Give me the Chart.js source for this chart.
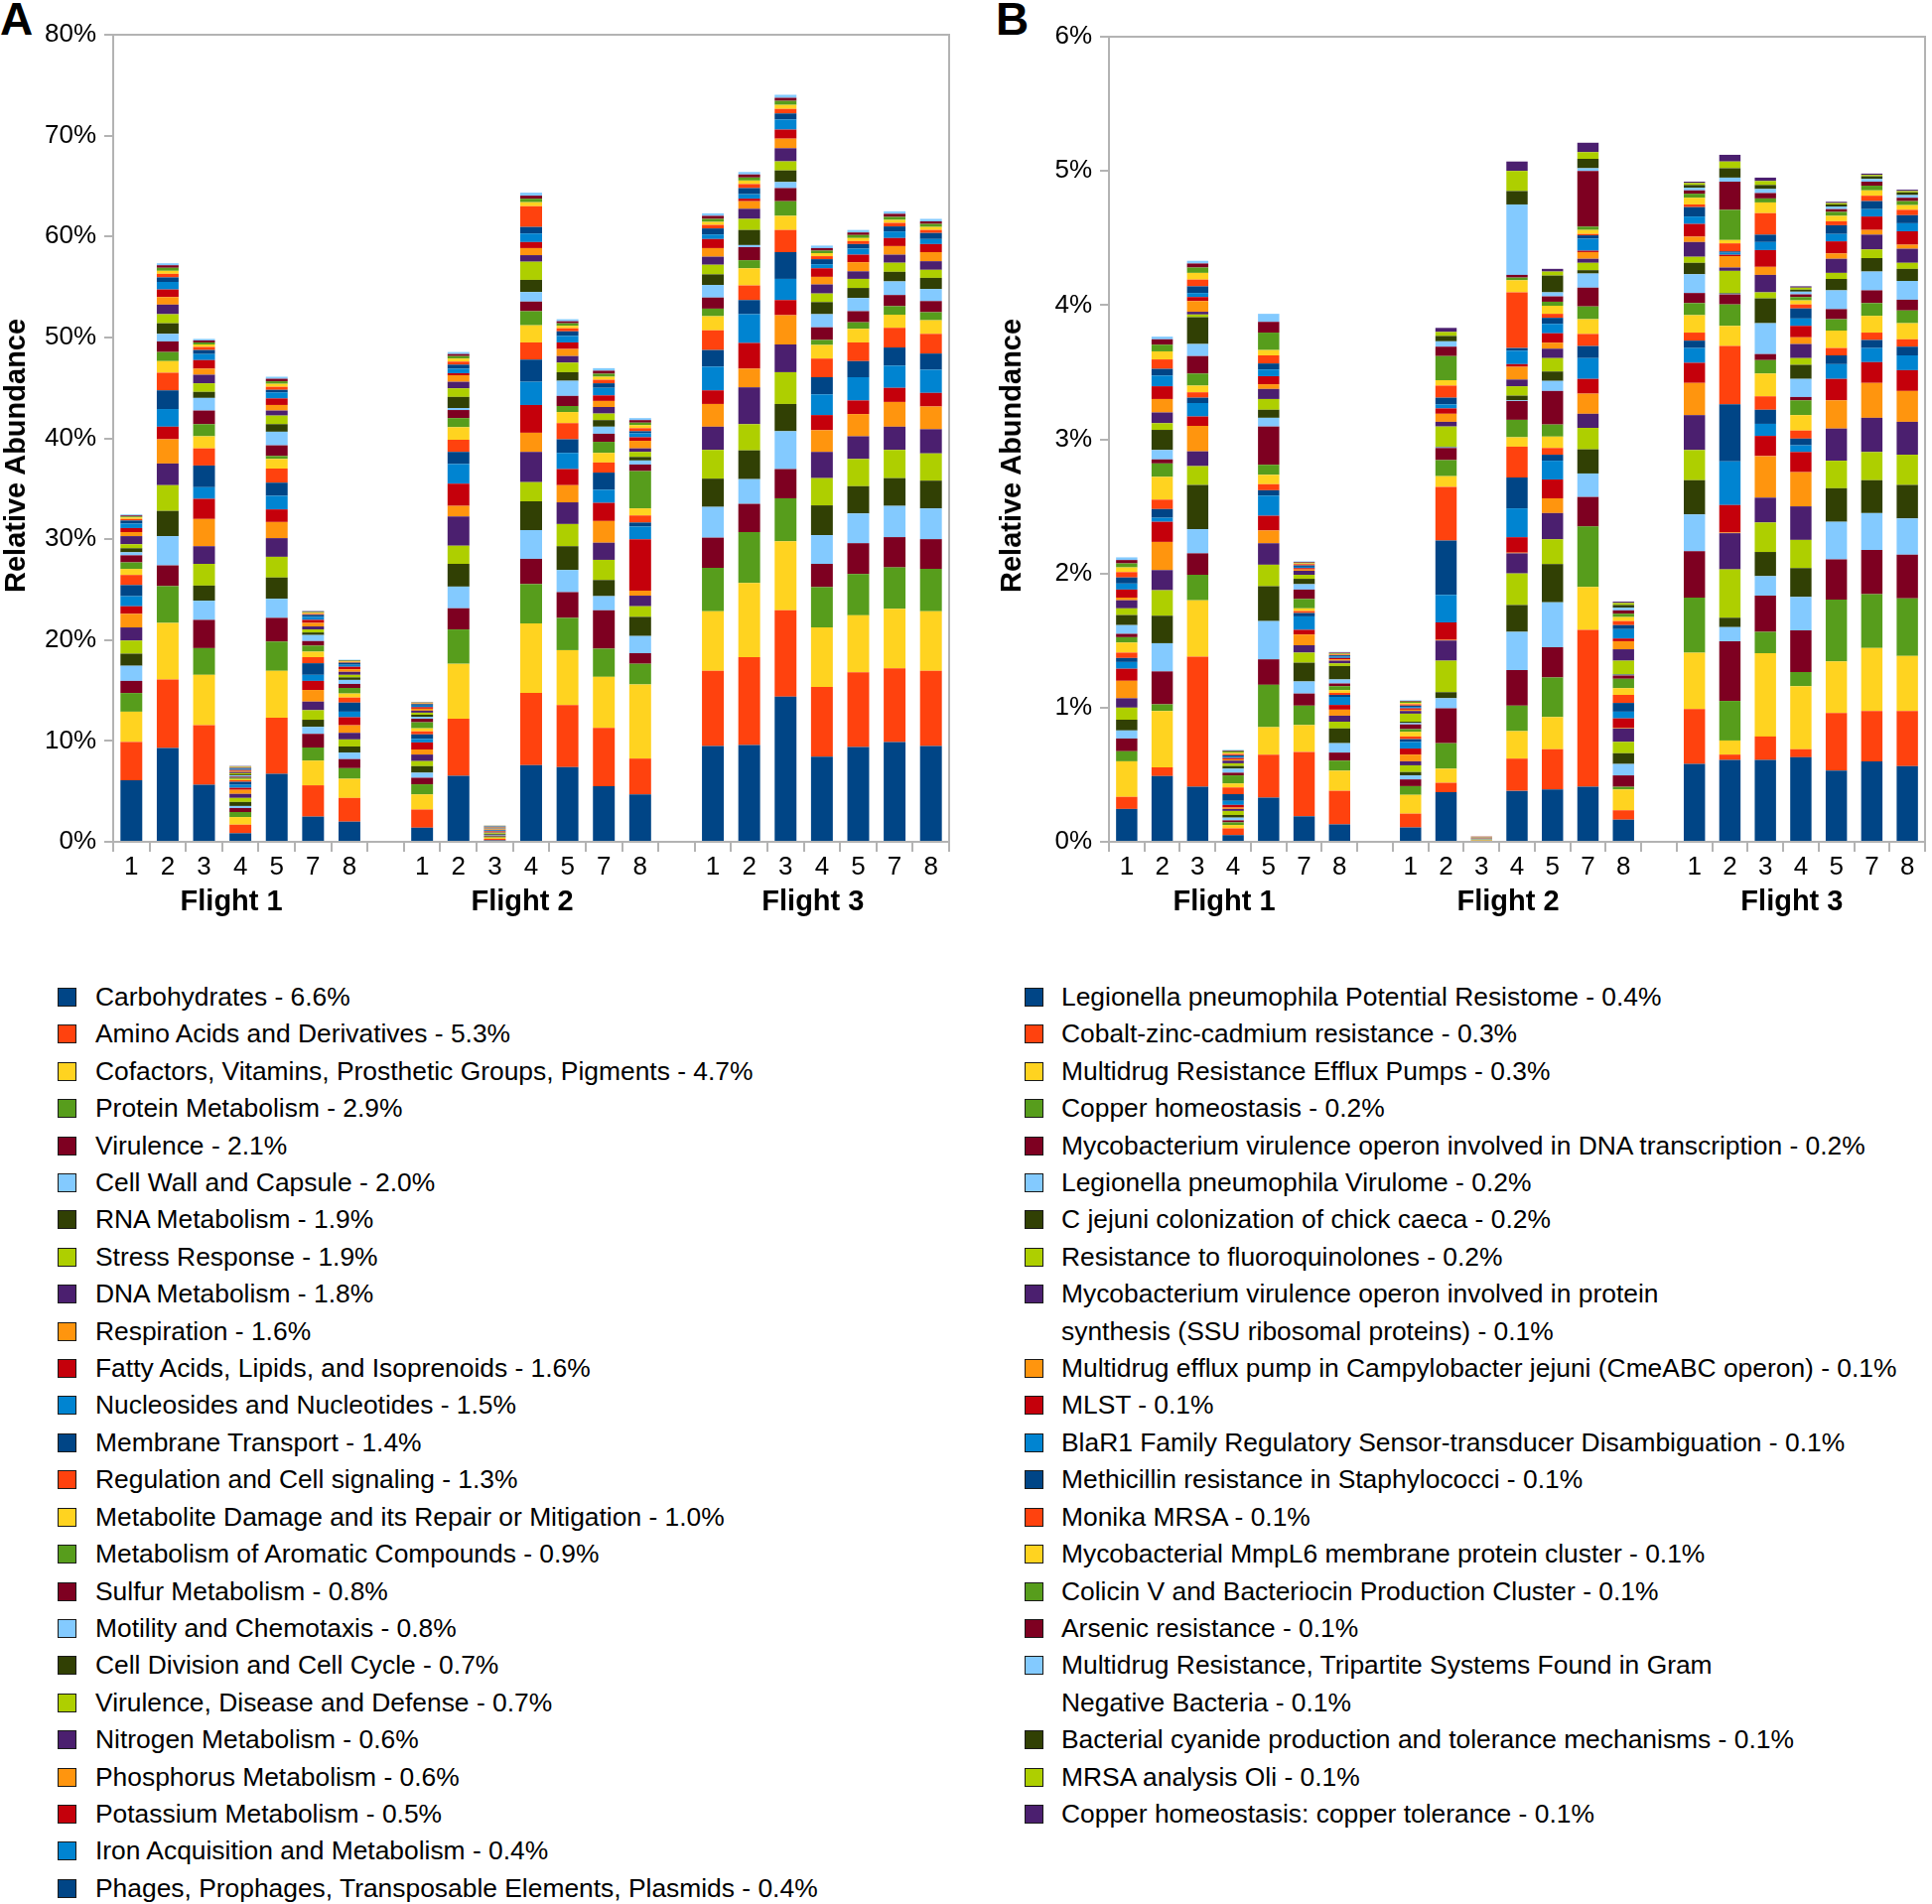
<!DOCTYPE html>
<html>
<head>
<meta charset="utf-8">
<script src="https://cdn.jsdelivr.net/npm/chart.js@4.4.0/dist/chart.umd.min.js"></script>
<style>
body { margin: 0; width: 1946px; height: 1918px; background: #fff; position: relative; overflow: hidden;
       font-family: "Liberation Sans", Arial, sans-serif; color: #000; }
canvas { position: absolute; top: 0; }
.letter { position: absolute; top: -4px; font-weight: bold; font-size: 46px; line-height: 46px; }
.ytitle { position: absolute; font-weight: bold; font-size: 29px; line-height: 34px; white-space: nowrap;
          transform: translate(-50%, -50%) rotate(-90deg); }
.legend { position: absolute; top: 986px; font-size: 26.4px; line-height: 37.4px; white-space: nowrap; }
.item { position: relative; }
.sw { position: absolute; left: 0; top: 9px; width: 17px; height: 17px; border: 1.5px solid #1a1a1a; }
</style>
</head>
<body>
<div class="letter" style="left:0">A</div>
<div class="letter" style="left:1003px">B</div>
<canvas id="chartA" style="left:0" width="975" height="950"></canvas>
<canvas id="chartB" style="left:990px" width="956" height="950"></canvas>
<div class="ytitle" style="left:15px;top:459px">Relative Abundance</div>
<div class="ytitle" style="left:1018px;top:459px">Relative Abundance</div>
<div id="legendA" class="legend" style="left:58px"></div>
<div id="legendB" class="legend" style="left:1032px"></div>

<script>
// x axis
var categories = ['1','2','3','4','5','7','8','', '1','2','3','4','5','7','8','', '1','2','3','4','5','7','8'];
var groupLabels = ['','','','Flight 1','','','','', '','','','Flight 2','','','','', '','','','Flight 3','','',''];

// LibreOffice default chart colours, repeated for every 12 series
var palette = ['#004586','#ff420e','#ffd320','#579d1c','#7e0021','#83caff',
               '#314004','#aecf00','#4b1f6f','#ff950e','#c5000b','#0084d1'];

var legendA = [
  'Carbohydrates - 6.6%',
  'Amino Acids and Derivatives - 5.3%',
  'Cofactors, Vitamins, Prosthetic Groups, Pigments - 4.7%',
  'Protein Metabolism - 2.9%',
  'Virulence - 2.1%',
  'Cell Wall and Capsule - 2.0%',
  'RNA Metabolism - 1.9%',
  'Stress Response - 1.9%',
  'DNA Metabolism - 1.8%',
  'Respiration - 1.6%',
  'Fatty Acids, Lipids, and Isoprenoids - 1.6%',
  'Nucleosides and Nucleotides - 1.5%',
  'Membrane Transport - 1.4%',
  'Regulation and Cell signaling - 1.3%',
  'Metabolite Damage and its Repair or Mitigation - 1.0%',
  'Metabolism of Aromatic Compounds - 0.9%',
  'Sulfur Metabolism - 0.8%',
  'Motility and Chemotaxis - 0.8%',
  'Cell Division and Cell Cycle - 0.7%',
  'Virulence, Disease and Defense - 0.7%',
  'Nitrogen Metabolism - 0.6%',
  'Phosphorus Metabolism - 0.6%',
  'Potassium Metabolism - 0.5%',
  'Iron Acquisition and Metabolism - 0.4%',
  'Phages, Prophages, Transposable Elements, Plasmids - 0.4%'
];

var legendB = [
  'Legionella pneumophila Potential Resistome - 0.4%',
  'Cobalt-zinc-cadmium resistance - 0.3%',
  'Multidrug Resistance Efflux Pumps - 0.3%',
  'Copper homeostasis - 0.2%',
  'Mycobacterium virulence operon involved in DNA transcription - 0.2%',
  'Legionella pneumophila Virulome - 0.2%',
  'C jejuni colonization of chick caeca - 0.2%',
  'Resistance to fluoroquinolones - 0.2%',
  'Mycobacterium virulence operon involved in protein\nsynthesis (SSU ribosomal proteins) - 0.1%',
  'Multidrug efflux pump in Campylobacter jejuni (CmeABC operon) - 0.1%',
  'MLST - 0.1%',
  'BlaR1 Family Regulatory Sensor-transducer Disambiguation - 0.1%',
  'Methicillin resistance in Staphylococci - 0.1%',
  'Monika MRSA - 0.1%',
  'Mycobacterial MmpL6 membrane protein cluster - 0.1%',
  'Colicin V and Bacteriocin Production Cluster - 0.1%',
  'Arsenic resistance - 0.1%',
  'Multidrug Resistance, Tripartite Systems Found in Gram\nNegative Bacteria - 0.1%',
  'Bacterial cyanide production and tolerance mechanisms - 0.1%',
  'MRSA analysis Oli - 0.1%',
  'Copper homeostasis: copper tolerance - 0.1%'
];

// panel A: one array per bar (samples 1,2,3,4,5,7,8), stacked bottom->top, values in %
var flight1A = [
  [6.1,3.8,3.0,1.85,1.2,1.5,1.2,1.3,1.3,1.35,0.75,1.0,1.1,1.0,0.6,0.65,0.7,0.3,0.4,0.4,0.8,0.4,0.4,0.45,0.3, 0.15,0.15,0.1,0.1,0.1],
  [9.3,6.8,5.6,3.65,2.05,2.9,2.5,2.55,2.15,2.4,1.25,1.75,1.85,1.75,1.15,0.9,1.05,0.75,1.05,0.9,0.95,0.75,0.75,0.75,0.45, 0.35,0.3,0.3,0.25,0.2],
  [5.65,5.9,5.0,2.65,2.8,1.9,1.5,2.15,1.75,2.7,2.0,1.15,2.15,1.7,1.2,1.2,1.35,1.25,0.6,0.85,0.85,0.6,0.85,0.6,0.4, 0.3,0.25,0.2,0.2,0.15],
  [0.85,0.85,0.75,0.5,0.4,0.2,0.4,0.4,0.4,0.4,0.2,0.3,0.3,0.15,0.12,0.12,0.12,0.12,0.1,0.12,0.12,0.1,0.1,0.1,0.1, 0.05,0.05,0.04,0.04,0.03],
  [6.75,5.55,4.65,2.9,2.35,1.9,2.1,2.05,1.85,1.6,1.25,1.35,1.3,1.4,0.95,0.3,1.05,1.35,0.75,0.85,0.5,0.55,0.65,0.6,0.25, 0.3,0.3,0.25,0.25,0.2],
  [2.5,3.1,2.45,1.3,1.35,0.7,0.7,0.95,0.85,1.15,0.9,0.6,1.15,0.6,0.55,0.6,0.45,0.6,0.25,0.3,0.3,0.35,0.3,0.3,0.2, 0.1,0.1,0.08,0.07,0.05],
  [2.0,2.35,1.9,1.05,0.9,0.65,0.6,0.7,0.65,0.75,0.8,0.55,0.9,0.5,0.4,0.55,0.4,0.4,0.25,0.25,0.3,0.25,0.25,0.2,0.2, 0.08,0.07,0.06,0.05,0.04]
];
var flight2A = [
  [1.4,1.8,1.5,1.0,0.65,0.5,0.65,0.5,0.65,0.5,0.7,0.35,0.45,0.3,0.3,0.6,0.35,0.2,0.2,0.2,0.2,0.2,0.15,0.15,0.15, 0.06,0.05,0.04,0.03,0.02],
  [6.55,5.65,5.45,3.4,2.1,2.15,2.25,1.8,2.9,1.05,2.2,1.95,1.2,1.2,1.25,0.9,0.8,0.2,1.1,0.85,0.65,0.65,0.2,0.45,0.4, 0.3,0.3,0.25,0.2,0.2],
  [0.15,0.15,0.12,0.1,0.1,0.08,0.08,0.08,0.07,0.07,0.06,0.06,0.06,0.03,0.03,0.03,0.03,0.03,0.03,0.03,0.03,0.03,0.03,0.03,0.03, 0.02,0.02,0.01,0.01,0.01],
  [7.6,7.15,6.9,3.9,2.5,2.85,2.85,1.9,3.0,1.9,2.75,2.3,2.2,1.7,1.7,1.4,0.95,0.95,1.2,1.8,0.65,0.7,0.6,0.85,0.65, 2.05,0.4,0.35,0.3,0.3],
  [7.4,6.15,5.45,3.2,2.55,2.2,2.35,2.2,2.15,1.7,1.6,1.6,1.35,1.6,1.1,0.6,1.0,1.5,0.85,0.95,0.65,0.7,0.65,0.65,0.45, 0.3,0.25,0.25,0.2,0.2],
  [5.5,5.8,5.05,2.8,3.8,1.4,1.6,2.0,1.7,2.15,1.8,1.3,1.7,1.0,0.95,1.1,0.8,0.7,0.65,0.65,0.65,0.6,0.55,0.75,0.45, 0.35,0.3,0.3,0.3,0.25],
  [4.7,3.55,7.35,2.05,1.05,1.7,1.9,1.05,1.05,0.5,5.1,1.25,0.4,0.7,0.7,3.7,0.65,0.4,0.35,0.5,0.35,0.75,0.35,0.4,0.2, 0.3,0.3,0.25,0.25,0.2]
];
var flight3A = [
  [9.5,7.45,5.9,4.3,3.0,3.05,2.8,2.85,2.3,2.25,1.35,2.35,1.65,1.95,1.4,0.75,1.1,1.25,1.05,0.95,0.8,0.85,0.9,0.45,0.6, 0.35,0.3,0.3,0.3,0.25],
  [9.6,8.7,7.35,5.05,2.8,2.45,2.85,2.6,3.65,1.85,2.55,2.85,1.4,1.45,1.7,0.8,1.3,0.2,1.5,1.1,1.0,0.75,0.25,0.45,0.6, 0.4,0.35,0.3,0.3,0.25],
  [14.4,8.55,6.85,4.25,2.9,3.75,2.7,3.15,2.75,2.9,1.5,2.1,2.65,2.2,1.4,1.45,1.3,0.6,1.15,0.9,1.3,0.95,0.9,1.0,0.6, 0.45,0.4,0.4,0.3,0.3],
  [8.45,6.9,5.9,4.0,2.3,2.85,2.95,2.7,2.6,2.15,1.5,2.05,1.7,1.85,1.35,0.5,1.25,1.3,1.2,0.85,0.9,0.75,0.85,0.4,0.5, 0.3,0.3,0.25,0.25,0.25],
  [9.4,7.4,5.65,4.1,3.05,2.95,2.7,2.7,2.25,2.2,1.35,2.3,1.6,1.85,1.35,0.65,1.1,1.3,1.0,0.9,0.75,0.9,0.75,0.6,0.45, 0.3,0.3,0.3,0.25,0.25],
  [9.9,7.3,5.9,4.1,3.0,3.1,2.75,2.8,2.3,2.45,1.4,2.2,1.8,1.95,1.3,0.85,1.1,1.35,0.95,0.9,0.8,0.85,0.8,0.65,0.5, 0.35,0.3,0.3,0.3,0.25],
  [9.5,7.45,5.9,4.2,2.95,3.05,2.75,2.7,2.4,2.25,1.35,2.3,1.6,1.95,1.35,0.8,1.1,1.2,1.1,0.8,0.85,0.9,0.8,0.5,0.6, 0.3,0.3,0.3,0.25,0.25]
];

// panel B: same layout, 21 named systems then unnamed minor ones
var flight1B = [
  [0.245,0.09,0.265,0.075,0.095,0.06,0.08,0.09,0.07,0.13,0.09,0.05,0.03,0.04,0.075,0.04,0.025,0.065,0.075,0.05,0.06, 0.02,0.06,0.045,0.045,0.04,0.035,0.03,0.025,0.02],
  [0.49,0.065,0.42,0.05,0.245,0.21,0.205,0.19,0.15,0.21,0.15,0.03,0.065,0.07,0.17,0.1,0.03,0.07,0.15,0.05,0.08, 0.1,0.095,0.08,0.05,0.07,0.06,0.05,0.04,0.02],
  [0.41,0.97,0.42,0.19,0.16,0.18,0.33,0.14,0.11,0.19,0.07,0.1,0.04,0.04,0.05,0.09,0.13,0.09,0.2,0.02,0.02, 0.08,0.03,0.03,0.05,0.05,0.05,0.04,0.03,0.02],
  [0.05,0.05,0.025,0.02,0.015,0.02,0.02,0.03,0.015,0.01,0.02,0.03,0.05,0.05,0.03,0.06,0.02,0.03,0.02,0.02,0.02, 0.01,0.01,0.01,0.01,0.01,0.01,0.01,0.005,0.005],
  [0.33,0.32,0.205,0.315,0.19,0.285,0.26,0.16,0.16,0.095,0.11,0.15,0.04,0.045,0.07,0.075,0.285,0.065,0.06,0.08,0.075, 0.035,0.06,0.05,0.045,0.06,0.04,0.13,0.08,0.06],
  [0.19,0.48,0.2,0.145,0.09,0.09,0.14,0.075,0.055,0.08,0.035,0.1,0.025,0.015,0.02,0.07,0.07,0.04,0.04,0.03,0.03, 0.01,0.01,0.01,0.01,0.01,0.005,0.005,0.005,0.005],
  [0.13,0.25,0.15,0.075,0.06,0.07,0.11,0.05,0.045,0.045,0.035,0.06,0.015,0.015,0.02,0.03,0.02,0.03,0.1,0.02,0.02, 0.01,0.01,0.01,0.01,0.005,0.005,0.005,0.005,0.005]
];
var flight2B = [
  [0.107,0.103,0.14,0.065,0.05,0.03,0.025,0.05,0.03,0.05,0.045,0.05,0.02,0.02,0.035,0.02,0.035,0.01,0.01,0.06,0.02, 0.01,0.01,0.01,0.01,0.01,0.01,0.01,0.005,0.005],
  [0.37,0.07,0.105,0.19,0.26,0.075,0.045,0.235,0.15,0.005,0.13,0.205,0.405,0.4,0.08,0.12,0.09,0.005,0.005,0.15,0.035, 0.06,0.04,0.03,0.05,0.09,0.04,0.18,0.07,0.04,0.04,0.03,0.03],
  [0.004,0.004,0.003,0.002,0.002,0.002,0.002,0.002,0.002,0.002,0.002,0.002,0.001,0.001,0.001,0.001,0.001,0.001,0.001,0.001,0.001, 0.001,0.001],
  [0.38,0.24,0.205,0.19,0.265,0.285,0.2,0.235,0.15,0.005,0.115,0.215,0.23,0.23,0.07,0.13,0.14,0.005,0.035,0.07,0.05, 0.095,0.02,0.1,0.02,0.415,0.09,0.02,0.02,0.525,0.1,0.15,0.07],
  [0.39,0.3,0.24,0.295,0.225,0.335,0.285,0.185,0.195,0.11,0.14,0.14,0.045,0.05,0.085,0.09,0.25,0.075,0.07,0.1,0.07, 0.045,0.07,0.07,0.045,0.03,0.06,0.03,0.04,0.03,0.125,0.03,0.02],
  [0.41,1.17,0.32,0.45,0.22,0.175,0.18,0.16,0.105,0.15,0.11,0.155,0.09,0.09,0.11,0.095,0.14,0.105,0.025,0.055,0.03, 0.05,0.01,0.09,0.025,0.01,0.03,0.025,0.415,0.02,0.07,0.05,0.07],
  [0.165,0.07,0.155,0.02,0.085,0.085,0.08,0.085,0.1,0.005,0.07,0.05,0.065,0.06,0.05,0.07,0.025,0.005,0.005,0.1,0.085, 0.06,0.02,0.07,0.03,0.03,0.03,0.025,0.025,0.02,0.02,0.015,0.01]
];
var flight3B = [
  [0.58,0.41,0.42,0.41,0.345,0.275,0.255,0.225,0.26,0.24,0.15,0.11,0.055,0.06,0.13,0.09,0.075,0.14,0.085,0.045,0.11, 0.04,0.095,0.055,0.07,0.02,0.05,0.03,0.025,0.02,0.02,0.015,0.01],
  [0.61,0.04,0.105,0.295,0.445,0.105,0.07,0.36,0.27,0.005,0.205,0.325,0.425,0.435,0.15,0.16,0.075,0.005,0.005,0.165,0.025, 0.085,0.01,0.015,0.01,0.06,0.025,0.225,0.21,0.03,0.07,0.05,0.05],
  [0.61,0.175,0.62,0.16,0.27,0.145,0.18,0.22,0.185,0.31,0.15,0.09,0.105,0.1,0.17,0.1,0.045,0.23,0.185,0.045,0.13, 0.06,0.125,0.06,0.055,0.16,0.08,0.03,0.04,0.03,0.03,0.03,0.025],
  [0.63,0.06,0.47,0.105,0.31,0.25,0.215,0.21,0.25,0.255,0.15,0.05,0.05,0.06,0.115,0.11,0.025,0.135,0.105,0.05,0.105, 0.05,0.085,0.055,0.075,0.03,0.03,0.025,0.02,0.02,0.015,0.015,0.01],
  [0.53,0.43,0.385,0.46,0.3,0.28,0.25,0.205,0.24,0.21,0.16,0.11,0.065,0.055,0.13,0.085,0.075,0.14,0.085,0.045,0.105, 0.04,0.09,0.055,0.065,0.03,0.04,0.03,0.02,0.02,0.015,0.01,0.01],
  [0.6,0.375,0.47,0.4,0.33,0.275,0.245,0.21,0.255,0.26,0.155,0.105,0.06,0.055,0.125,0.095,0.095,0.14,0.1,0.065,0.11, 0.035,0.1,0.055,0.06,0.04,0.04,0.035,0.03,0.02,0.02,0.01,0.01],
  [0.565,0.41,0.41,0.43,0.325,0.27,0.25,0.225,0.245,0.23,0.155,0.11,0.065,0.055,0.12,0.095,0.08,0.14,0.09,0.045,0.105, 0.03,0.1,0.06,0.06,0.04,0.035,0.03,0.025,0.02,0.02,0.01,0.01]
];

var gray = '#b3b3b3';
var fontName = '"Liberation Sans", Arial, sans-serif';

function buildDatasets(flights) {
  var n = 0;
  flights.forEach(function (f) { f.forEach(function (bar) { n = Math.max(n, bar.length); }); });
  var sets = [];
  for (var s = 0; s < n; s++) {
    var data = [];
    for (var f = 0; f < flights.length; f++) {
      if (f > 0) data.push(null); // gap between flights
      for (var b = 0; b < flights[f].length; b++) {
        var v = flights[f][b][s];
        data.push(v === undefined ? 0 : v);
      }
    }
    sets.push({ label: 'S' + (s + 1), data: data, backgroundColor: palette[s % palette.length],
                borderWidth: 0, barPercentage: 0.6, categoryPercentage: 1.0 });
  }
  return sets;
}

var framePlugin = {
  id: 'frame',
  afterDatasetsDraw: function (chart) {
    var a = chart.chartArea, c = chart.ctx;
    c.save();
    c.strokeStyle = gray;
    c.lineWidth = 2;
    c.strokeRect(a.left, a.top, a.right - a.left, a.bottom - a.top);
    c.restore();
  }
};

function makeChart(id, flights, yMax, yStep, yWidth, pad) {
  var ctx = document.getElementById(id).getContext('2d');
  return new Chart(ctx, {
    type: 'bar',
    data: { labels: categories, datasets: buildDatasets(flights) },
    plugins: [framePlugin],
    options: {
      responsive: false,
      animation: false,
      devicePixelRatio: 1,
      layout: { padding: pad },
      plugins: { legend: { display: false }, tooltip: { enabled: false } },
      scales: {
        x: {
          stacked: true,
          grid: { display: true, drawOnChartArea: false, drawTicks: true, tickLength: 10, color: gray, lineWidth: 2, offset: true },
          border: { display: true, color: gray, width: 2 },
          ticks: { color: '#000', font: { family: fontName, size: 26 }, padding: 0, autoSkip: false, maxRotation: 0 },
          afterFit: function (s) { s.height = 36; }
        },
        x2: {
          type: 'category',
          position: 'bottom',
          labels: groupLabels,
          grid: { display: false },
          border: { display: false },
          ticks: { color: '#000', font: { family: fontName, size: 29, weight: 'bold' }, padding: 0,
                   labelOffset: -9, autoSkip: false, maxRotation: 0 },
          afterFit: function (s) { s.height = 54; }
        },
        y: {
          stacked: true,
          min: 0,
          max: yMax,
          ticks: { stepSize: yStep, color: '#000', padding: 8, font: { family: fontName, size: 26 },
                   callback: function (v) { return v + '%'; } },
          grid: { display: true, drawOnChartArea: false, drawTicks: true, tickLength: 9, color: gray, lineWidth: 2 },
          border: { display: true, color: gray, width: 2 },
          afterFit: function (s) { s.width = yWidth; }
        }
      }
    }
  });
}

makeChart('chartA', [flight1A, flight2A, flight3A], 80, 10, 114, { left: 0, top: 35, right: 19, bottom: 12 });
makeChart('chartB', [flight1B, flight2B, flight3B], 6, 1, 127, { left: 0, top: 37, right: 7, bottom: 12 });

function fillLegend(id, names) {
  var box = document.getElementById(id);
  names.forEach(function (name, i) {
    var item = document.createElement('div');
    item.className = 'item';
    item.style.paddingLeft = (id === 'legendA' ? 38 : 37) + 'px';
    var sw = document.createElement('span');
    sw.className = 'sw';
    sw.style.background = palette[i % palette.length];
    item.appendChild(sw);
    name.split('\n').forEach(function (line, k) {
      if (k > 0) item.appendChild(document.createElement('br'));
      item.appendChild(document.createTextNode(line));
    });
    box.appendChild(item);
  });
}
fillLegend('legendA', legendA);
fillLegend('legendB', legendB);
</script>
</body>
</html>
